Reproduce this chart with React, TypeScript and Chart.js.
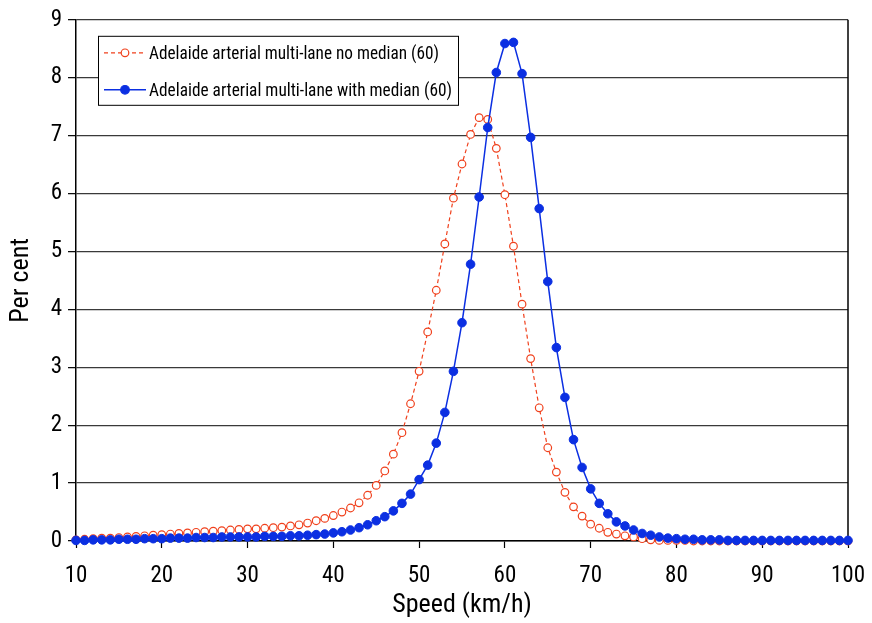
import React, { useEffect, useRef } from "react";
import { Chart, registerables } from "chart.js";

Chart.register(...registerables);

const speeds: number[] = Array.from({ length: 91 }, (_, i) => 10 + i);

const noMedian: number[] = [
  0.02, 0.03, 0.04, 0.05, 0.05, 0.06, 0.07, 0.08, 0.09, 0.10,
  0.11, 0.12, 0.13, 0.14, 0.15, 0.16, 0.17, 0.18, 0.19, 0.20,
  0.21, 0.21, 0.22, 0.23, 0.24, 0.26, 0.28, 0.31, 0.35, 0.39,
  0.44, 0.50, 0.57, 0.66, 0.79, 0.96, 1.21, 1.50, 1.87, 2.37,
  2.93, 3.61, 4.33, 5.13, 5.92, 6.51, 7.02, 7.31, 7.28, 6.78,
  5.98, 5.09, 4.09, 3.15, 2.30, 1.61, 1.19, 0.84, 0.59, 0.43,
  0.29, 0.22, 0.15, 0.12, 0.09, 0.07, 0.04, 0.02, 0.01, 0.01,
  0.01, 0.01, 0.00, 0.00, 0.00, 0.00, 0.00, 0.00, 0.00, 0.00,
  0.00, 0.00, 0.00, 0.00, 0.00, 0.00, 0.00, 0.00, 0.00, 0.00,
  0.00,
];

const withMedian: number[] = [
  0.01, 0.01, 0.02, 0.02, 0.02, 0.03, 0.03, 0.03, 0.04, 0.04,
  0.04, 0.05, 0.05, 0.05, 0.06, 0.06, 0.06, 0.07, 0.07, 0.07,
  0.07, 0.07, 0.08, 0.08, 0.08, 0.09, 0.09, 0.10, 0.11, 0.12,
  0.14, 0.16, 0.19, 0.23, 0.28, 0.35, 0.42, 0.52, 0.65, 0.81,
  1.06, 1.31, 1.69, 2.22, 2.93, 3.77, 4.78, 5.94, 7.14, 8.09,
  8.59, 8.61, 8.07, 6.97, 5.74, 4.48, 3.34, 2.48, 1.75, 1.27,
  0.90, 0.65, 0.47, 0.33, 0.26, 0.19, 0.13, 0.10, 0.07, 0.05,
  0.04, 0.03, 0.03, 0.02, 0.02, 0.02, 0.01, 0.01, 0.01, 0.01,
  0.01, 0.01, 0.01, 0.01, 0.01, 0.01, 0.01, 0.01, 0.01, 0.01,
  0.01,
];

const seriesLabels: string[] = [
  "Adelaide arterial multi-lane no median (60)",
  "Adelaide arterial multi-lane with median (60)",
];

const xTitle = "Speed (km/h)";
const yTitle = "Per cent";

const FONT = "'Liberation Sans Narrow', 'Roboto Condensed', 'Open Sans Condensed', 'DejaVu Sans Condensed', sans-serif";
const RED = "#F0401C";
const BLUE = "#0B2FE2";

const legendPlugin = {
  id: "boxLegend",
  afterDatasetsDraw(chart: any) {
    const { ctx, chartArea } = chart;
    const x = chartArea.left + 22;
    const y = chartArea.top + 16;
    const w = 360;
    const h = 69;
    ctx.save();
    ctx.fillStyle = "#ffffff";
    ctx.fillRect(x, y, w, h);
    ctx.strokeStyle = "#000";
    ctx.lineWidth = 1;
    ctx.strokeRect(x + 0.5, y + 0.5, w, h);
    const rows = [
      { label: seriesLabels[0], color: RED, dash: [4, 3], filled: false, maxW: 290 },
      { label: seriesLabels[1], color: BLUE, dash: [], filled: true, maxW: 303 },
    ];
    rows.forEach((r, i) => {
      const cy = y + 17 + i * 37;
      ctx.beginPath();
      ctx.setLineDash(r.dash);
      ctx.strokeStyle = r.color;
      ctx.lineWidth = r.filled ? 1.5 : 1.2;
      ctx.moveTo(x + 6, cy);
      ctx.lineTo(x + 48, cy);
      ctx.stroke();
      ctx.setLineDash([]);
      ctx.beginPath();
      ctx.arc(x + 27, cy, r.filled ? 4.3 : 3.8, 0, Math.PI * 2);
      ctx.fillStyle = r.filled ? r.color : "#fff";
      ctx.fill();
      ctx.lineWidth = 1.2;
      ctx.strokeStyle = r.color;
      ctx.stroke();
      ctx.fillStyle = "#000";
      ctx.font = `19px ${FONT}`;
      ctx.textBaseline = "middle";
      ctx.textAlign = "left";
      ctx.fillText(r.label, x + 51, cy + 1, r.maxW);
    });
    ctx.restore();
  },
};

const borderPlugin = {
  id: "rightBorder",
  beforeDatasetsDraw(chart: any) {
    const { ctx, chartArea } = chart;
    ctx.save();
    ctx.strokeStyle = "#000";
    ctx.lineWidth = 1.5;
    ctx.beginPath();
    ctx.moveTo(chartArea.right, chartArea.top);
    ctx.lineTo(chartArea.right, chartArea.bottom);
    ctx.stroke();
    ctx.restore();
  },
};

export default function App() {
  const ref = useRef<HTMLCanvasElement | null>(null);

  useEffect(() => {
    document.body.style.margin = "0";
    if (!ref.current) return;
    const chart = new Chart(ref.current, {
      type: "line",
      data: {
        labels: speeds,
        datasets: [
          {
            label: seriesLabels[0],
            data: speeds.map((s, i) => ({ x: s, y: noMedian[i] })),
            borderColor: RED,
            backgroundColor: "#ffffff",
            borderWidth: 1.2,
            borderDash: [4, 3],
            pointRadius: 3.8,
            pointBorderWidth: 1.2,
            pointBorderColor: RED,
            pointBackgroundColor: "#ffffff",
            tension: 0,
            clip: false as any,
            order: 1,
          },
          {
            label: seriesLabels[1],
            data: speeds.map((s, i) => ({ x: s, y: withMedian[i] })),
            borderColor: BLUE,
            backgroundColor: BLUE,
            borderWidth: 1.5,
            pointRadius: 4.3,
            pointBorderWidth: 1,
            pointBorderColor: BLUE,
            pointBackgroundColor: BLUE,
            tension: 0,
            clip: false as any,
            order: 0,
          },
        ],
      },
      options: {
        responsive: false,
        animation: false,
        layout: { padding: { left: 0, top: 18, right: 24, bottom: 0 } },
        plugins: {
          legend: { display: false },
          tooltip: { enabled: false },
        },
        scales: {
          x: {
            type: "linear",
            min: 10,
            max: 100,
            afterFit: (s: any) => {
              s.height = 82;
              s.paddingLeft = 0;
              s.paddingRight = 0;
            },
            ticks: {
              stepSize: 10,
              color: "#000",
              font: { family: FONT, size: 23 },
              padding: 14,
              maxRotation: 0,
            },
            grid: {
              drawOnChartArea: false,
              drawTicks: true,
              tickLength: 7,
              tickColor: "#000",
              tickWidth: 1.2,
            },
            border: { color: "#000", width: 1.5 },
            title: {
              display: true,
              text: xTitle,
              color: "#000",
              font: { family: FONT, size: 26 },
              padding: { top: 0, bottom: 2 },
            },
          },
          y: {
            min: 0,
            max: 9,
            afterFit: (s: any) => {
              s.width = 76;
            },
            ticks: {
              stepSize: 1,
              color: "#000",
              font: { family: FONT, size: 23 },
              padding: 6,
            },
            grid: {
              color: "#3a3a3a",
              lineWidth: 1.3,
              drawTicks: true,
              tickLength: 8,
              tickColor: "#000",
              tickWidth: 1.2,
            },
            border: { color: "#000", width: 1.5 },
            title: {
              display: true,
              text: yTitle,
              color: "#000",
              font: { family: FONT, size: 26 },
              padding: { top: 6, bottom: 0 },
            },
          },
        },
      },
      plugins: [borderPlugin, legendPlugin],
    });
    return () => chart.destroy();
  }, []);

  return (
    <div style={{ width: 872, height: 623 }}>
      <canvas ref={ref} width={872} height={623} style={{ display: "block" }} />
    </div>
  );
}
